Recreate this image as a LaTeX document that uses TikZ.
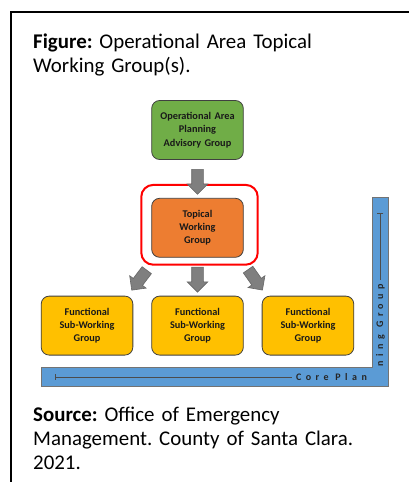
\documentclass[tikz,border=0pt]{standalone}
\usepackage{fontspec}
\setmainfont{Carlito}
\frenchspacing
\usetikzlibrary{arrows,backgrounds,fit,positioning,shapes}
\definecolor{plangreen}{HTML}{70AD47}
\definecolor{topicorange}{HTML}{ED7D31}
\definecolor{subyellow}{HTML}{FFC000}
\definecolor{coreblue}{HTML}{5B9BD5}
\definecolor{flechagray}{HTML}{7F7F7F}
\tikzstyle{grupo}=[
	rectangle,
	rounded corners=8,
	draw=black!75,
	line width=0.8,
	minimum width=91,
	minimum height=59,
	text width=85,
	align=center,
	text=black!90,
	font=\bfseries\fontsize{10.3}{13.3}\selectfont]
\tikzstyle{anillo}=[
	rectangle,
	rounded corners=12,
	draw=red,
	line width=2]
\tikzstyle{flecha}=[
	single arrow,
	draw=black!60,
	fill=flechagray,
	line width=0.6,
	minimum height=25,
	inner sep=5.5,
	single arrow head extend=4.5]
\tikzstyle{leyenda}=[
	inner sep=0,
	anchor=base west,
	text width=360,
	align=left,
	font=\fontsize{20.9}{24.4}\selectfont]
\tikzstyle{core}=[
	inner sep=0,
	text=black!85,
	font=\bfseries\fontsize{10}{10}\selectfont\addfontfeature{LetterSpace=45}]

\begin{document}
\begin{tikzpicture}[x=1pt,y=-1pt]
	\useasboundingbox (0,0) rectangle (409,482);
	\begin{scope}[node distance=38pt,>=latex]
		% marco y textos
		\draw[line width=2] (11.3,482) -- (11.3,11.7) -- (409,11.7);
		\node[leyenda]	(titulo)	at (33,48.5)	{\textbf{Figure:} Operational Area Topical\\Working Group(s).};
		\node[leyenda]	(fuente)	at (33,421)		{\textbf{Source:} Office of Emergency\\Management. County of Santa Clara.\\2021.};
		% core planning group
		\filldraw[fill=coreblue,draw=black!55,line width=0.6] (41,367) -- (372,367) -- (372,197) -- (388,197) -- (388,386) -- (41,386) -- cycle;
		\node[core]		(coreh)	at (331.5,377.5)	{Core Plan};
		\node[core,rotate=90]	(corev)	at (380.5,325)	{ning Group};
		\coordinate (lineah) at (55,377);
		\coordinate (lineav) at (380.3,213);
		\draw[|-,black!70,line width=0.5] (lineah) -- ([xshift=-4]coreh.west |- lineah);
		\draw[|-,black!70,line width=0.5] (lineav) -- ([yshift=4]corev.east -| lineav);
		% grupos
		\node[grupo,fill=plangreen]	(plan)	at (197.5,130)	{Operational Area\\Planning\\Advisory Group};
		\node[grupo,fill=topicorange]	(topical)	[below=of plan]	{Topical\\Working\\Group};
		\node[anillo,fit=(topical),inner xsep=12,inner ysep=10,xshift=2,yshift=3]	(marco)	{};
		\node[grupo,fill=subyellow]	(sub2)	[below=of topical]	{Functional\\Sub-Working\\Group};
		\node[grupo,fill=subyellow,node distance=18pt]	(sub1)	[left=of sub2]	{Functional\\Sub-Working\\Group};
		\node[grupo,fill=subyellow,node distance=18pt]	(sub3)	[right=of sub2]	{Functional\\Sub-Working\\Group};
		% flechas
		\path (plan) -- node[flecha,rotate=-90] (f1) {} (topical);
		\path (topical) -- node[flecha,rotate=-90] (f3) {} (sub2);
		\path (topical) -- node[flecha,rotate=-127,pos=.53] (f2) {} (sub1);
		\path (topical) -- node[flecha,rotate=-55,pos=.52] (f4) {} (sub3);
	\end{scope}
\end{tikzpicture}
\end{document}
